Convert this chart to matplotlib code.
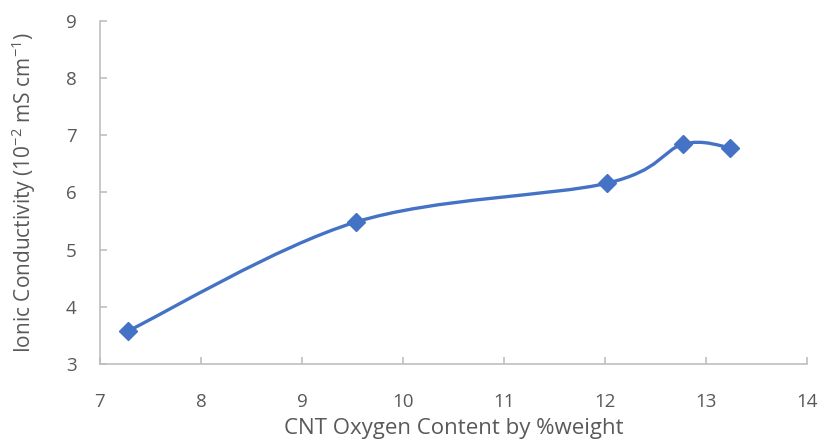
import matplotlib
matplotlib.use("Agg")
import matplotlib.pyplot as plt
from matplotlib.path import Path
from matplotlib.patches import PathPatch
import numpy as np

oxygen = [7.28, 9.53, 12.02, 12.77, 13.24]
conductivity = [3.58, 5.48, 6.16, 6.84, 6.78]
x_ticks = [7, 8, 9, 10, 11, 12, 13, 14]
y_ticks = [3, 4, 5, 6, 7, 8, 9]

plt.rcParams['font.family'] = ['Open Sans', 'DejaVu Sans']
plt.rcParams['mathtext.fontset'] = 'custom'
plt.rcParams['mathtext.rm'] = 'Open Sans'
plt.rcParams['mathtext.default'] = 'regular'
blue = '#4472C4'
gray = '#595959'
spine = '#BFBFBF'

fig = plt.figure(figsize=(8.21, 4.41), dpi=100)
ax = fig.add_axes([0.1218, 0.1746, 0.8612, 0.7784])
ax.set_xlim(7, 14)
ax.set_ylim(3, 9)

# Excel-style smoothed line as cubic Bezier through the data points (Catmull-Rom control points)
x = np.array(oxygen); y = np.array(conductivity)
verts = [(x[0], y[0])]
codes = [Path.MOVETO]
n = len(x)
t = 1.0 / 6
for i in range(n - 1):
    p0 = np.array([x[max(i - 1, 0)], y[max(i - 1, 0)]])
    p1 = np.array([x[i], y[i]])
    p2 = np.array([x[i + 1], y[i + 1]])
    p3 = np.array([x[min(i + 2, n - 1)], y[min(i + 2, n - 1)]])
    c1 = p1 + (p2 - p0) * t
    c2 = p2 - (p3 - p1) * t
    verts += [tuple(c1), tuple(c2), tuple(p2)]
    codes += [Path.CURVE4] * 3
patch = PathPatch(Path(verts, codes), facecolor='none', edgecolor=blue, lw=2.4,
                  capstyle='round', joinstyle='round', zorder=2)
ax.add_patch(patch)
ax.plot(oxygen, conductivity, linestyle='none', marker='D', markersize=9,
        color=blue, zorder=3)

ax.set_xticks(x_ticks)
ax.set_yticks(y_ticks)
for s in ['top', 'right']:
    ax.spines[s].set_visible(False)
for s in ['left', 'bottom']:
    ax.spines[s].set_color(spine)
    ax.spines[s].set_linewidth(1.2)
ax.tick_params(axis='both', direction='in', length=5, width=1.2, color=spine,
               labelcolor=gray, labelsize=13.5)
ax.tick_params(axis='x', pad=21)
ax.tick_params(axis='y', pad=17)

ax.set_xlabel('CNT Oxygen Content by %weight', fontsize=16, color=gray, labelpad=5)
ax.set_ylabel('Ionic Conductivity (10$^{-2}$ mS cm$^{-1}$)', fontsize=15, color=gray, labelpad=20)

fig.savefig('out.png', dpi=100)
